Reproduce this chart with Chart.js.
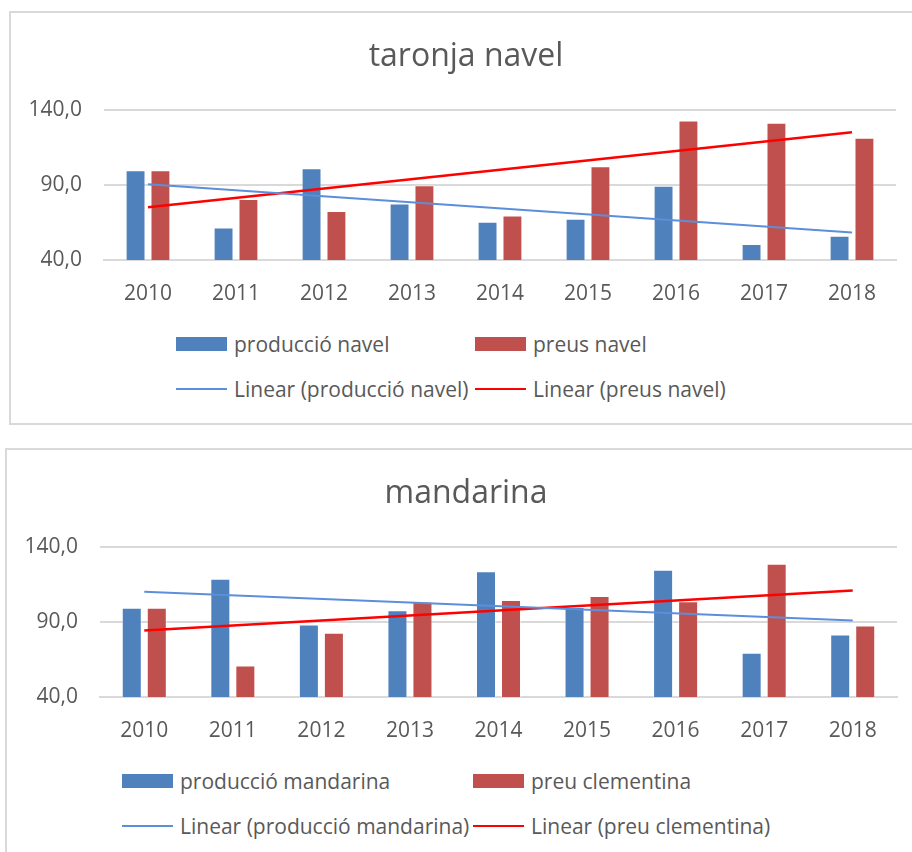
<!DOCTYPE html>
<html>
<head>
<meta charset="utf-8">
<script src="https://cdn.jsdelivr.net/npm/chart.js"></script>
<style>
  body { margin: 0; width: 912px; height: 852px; overflow: hidden; background: #fff; font-family: "Open Sans", sans-serif; position: relative; }
  .frame { position: absolute; border: 2px solid #D9D9D9; box-sizing: border-box; }
  canvas { position: absolute; }
  .leg { position: absolute; display: flex; align-items: center; height: 30px; font-size: 21px; color: #595959; white-space: nowrap; }
  .sw { width: 51px; margin-right: 7px; }
</style>
</head>
<body>
<div class="frame" style="left:9px; top:11px; width:930px; height:414px;"></div>
<div class="frame" style="left:5px; top:448px; width:930px; height:430px;"></div>
<canvas id="chartNavel" width="926" height="310" style="left:0; top:12px;"></canvas>
<canvas id="chartMandarina" width="930" height="310" style="left:0; top:449px;"></canvas>

<script>
// Dades (llegides del gràfic)
const anys = ['2010', '2011', '2012', '2013', '2014', '2015', '2016', '2017', '2018'];
const yTicks = [40, 90, 140];

const produccioNavel = [100, 61.8, 101.3, 77.8, 65.6, 67.6, 89.6, 50.7, 56.2];
const preusNavel = [100, 80.7, 72.7, 90, 69.8, 102.7, 133.3, 131.8, 121.8];
// línies de tendència: només els extrems (2010 i 2018)
const tendProduccioNavel = [90.6, null, null, null, null, null, null, null, 58.4];
const tendPreusNavel = [75.3, null, null, null, null, null, null, null, 125.4];

const produccioMandarina = [99.7, 119, 88.5, 98, 124, 100.2, 125.1, 69.5, 81.7];
const preuClementina = [99.7, 61, 83, 103.6, 104.8, 107.5, 104, 129, 87.8];
const tendProduccioMandarina = [110.4, null, null, null, null, null, null, null, 91.1];
const tendPreuClementina = [84.4, null, null, null, null, null, null, null, 111.2];

const BLAU = '#4F81BD';
const VERMELL = '#C0504D';
const BLAU_LINIA = '#5B8FDA';
const VERMELL_LINIA = '#FF0000';
const GRIS_TEXT = '#595959';
const GRIS_LINIA = '#D9D9D9';

Chart.defaults.font.family = "'Open Sans', sans-serif";
Chart.defaults.color = GRIS_TEXT;

// ampleY: amplada de l'eix Y, ampleDreta: espai buit a la dreta (el marc d'Excel continua fora de la imatge)
function crearGrafic(canvasId, titol, noms, barres1, barres2, tend1, tend2, padLeft, ampleY, ampleDreta) {
  const ctx = document.getElementById(canvasId).getContext('2d');
  return new Chart(ctx, {
    data: {
      labels: anys,
      datasets: [
        { type: 'line', label: noms[2], data: tend1, borderColor: BLAU_LINIA, borderWidth: 2,
          pointRadius: 0, spanGaps: true, fill: false, order: 0 },
        { type: 'line', label: noms[3], data: tend2, borderColor: VERMELL_LINIA, borderWidth: 2.5,
          pointRadius: 0, spanGaps: true, fill: false, order: 0 },
        { type: 'bar', label: noms[0], data: barres1, backgroundColor: BLAU,
          borderColor: 'rgba(255,255,255,0.45)', borderWidth: 1, order: 1,
          categoryPercentage: 0.565, barPercentage: 0.8 },
        { type: 'bar', label: noms[1], data: barres2, backgroundColor: VERMELL,
          borderColor: 'rgba(255,255,255,0.45)', borderWidth: 1, order: 1,
          categoryPercentage: 0.565, barPercentage: 0.8 }
      ]
    },
    options: {
      responsive: false,
      animation: false,
      layout: { padding: { left: padLeft, right: 0, top: 0, bottom: 12 } },
      plugins: {
        legend: { display: false },
        tooltip: { enabled: false },
        title: {
          display: true,
          text: titol,
          color: GRIS_TEXT,
          font: { size: 32, weight: 'normal' },
          padding: { top: 26, bottom: 34 }
        }
      },
      scales: {
        x: {
          afterFit: s => { s.height = 50; },
          grid: { display: false, drawTicks: false },
          border: { display: true, color: GRIS_LINIA, width: 2 },
          ticks: { padding: 21, font: { size: 21 }, color: GRIS_TEXT }
        },
        y: {
          min: 40,
          max: 140,
          afterFit: s => { s.width = ampleY; },
          afterBuildTicks: s => { s.ticks = yTicks.map(v => ({ value: v })); },
          grid: { color: GRIS_LINIA, lineWidth: 2, drawTicks: false },
          border: { display: false },
          ticks: {
            padding: 22,
            font: { size: 21 },
            color: GRIS_TEXT,
            callback: v => v.toFixed(1).replace('.', ',')
          }
        },
        dreta: {
          position: 'right',
          afterFit: s => { s.width = ampleDreta; },
          grid: { display: false, drawTicks: false },
          border: { display: false },
          ticks: { display: false }
        }
      }
    }
  });
}

// llegenda en HTML: 2 columnes, 2 files, com a l'original
function crearLlegenda(chart, col1, col2, fila1, fila2) {
  const ds = chart.data.datasets;
  const items = [
    [ds[2], col1, fila1, 'box'], [ds[3], col2, fila1, 'box'],
    [ds[0], col1, fila2, 'line'], [ds[1], col2, fila2, 'line']
  ];
  items.forEach(([d, x, y, tipus]) => {
    const el = document.createElement('div');
    el.className = 'leg';
    el.style.left = x + 'px';
    el.style.top = (y - 15) + 'px';
    const sw = document.createElement('span');
    sw.className = 'sw';
    if (tipus === 'box') {
      sw.style.height = '14px';
      sw.style.background = d.backgroundColor;
    } else {
      sw.style.height = d.borderWidth + 'px';
      sw.style.background = d.borderColor;
    }
    const txt = document.createElement('span');
    txt.textContent = d.label;
    el.appendChild(sw);
    el.appendChild(txt);
    document.body.appendChild(el);
  });
}

document.addEventListener('DOMContentLoaded', () => {
  const c1 = crearGrafic('chartNavel', 'taronja navel',
    ['producció navel', 'preus navel', 'Linear (producció navel)', 'Linear (preus navel)'],
    produccioNavel, preusNavel, tendProduccioNavel, tendPreusNavel, 6, 98, 30);
  crearLlegenda(c1, 176, 475, 344, 389);

  const c2 = crearGrafic('chartMandarina', 'mandarina',
    ['producció mandarina', 'preu clementina', 'Linear (producció mandarina)', 'Linear (preu clementina)'],
    produccioMandarina, preuClementina, tendProduccioMandarina, tendPreuClementina, 2, 98, 33);
  crearLlegenda(c2, 122, 473, 781, 826);
});
</script>
</body>
</html>
